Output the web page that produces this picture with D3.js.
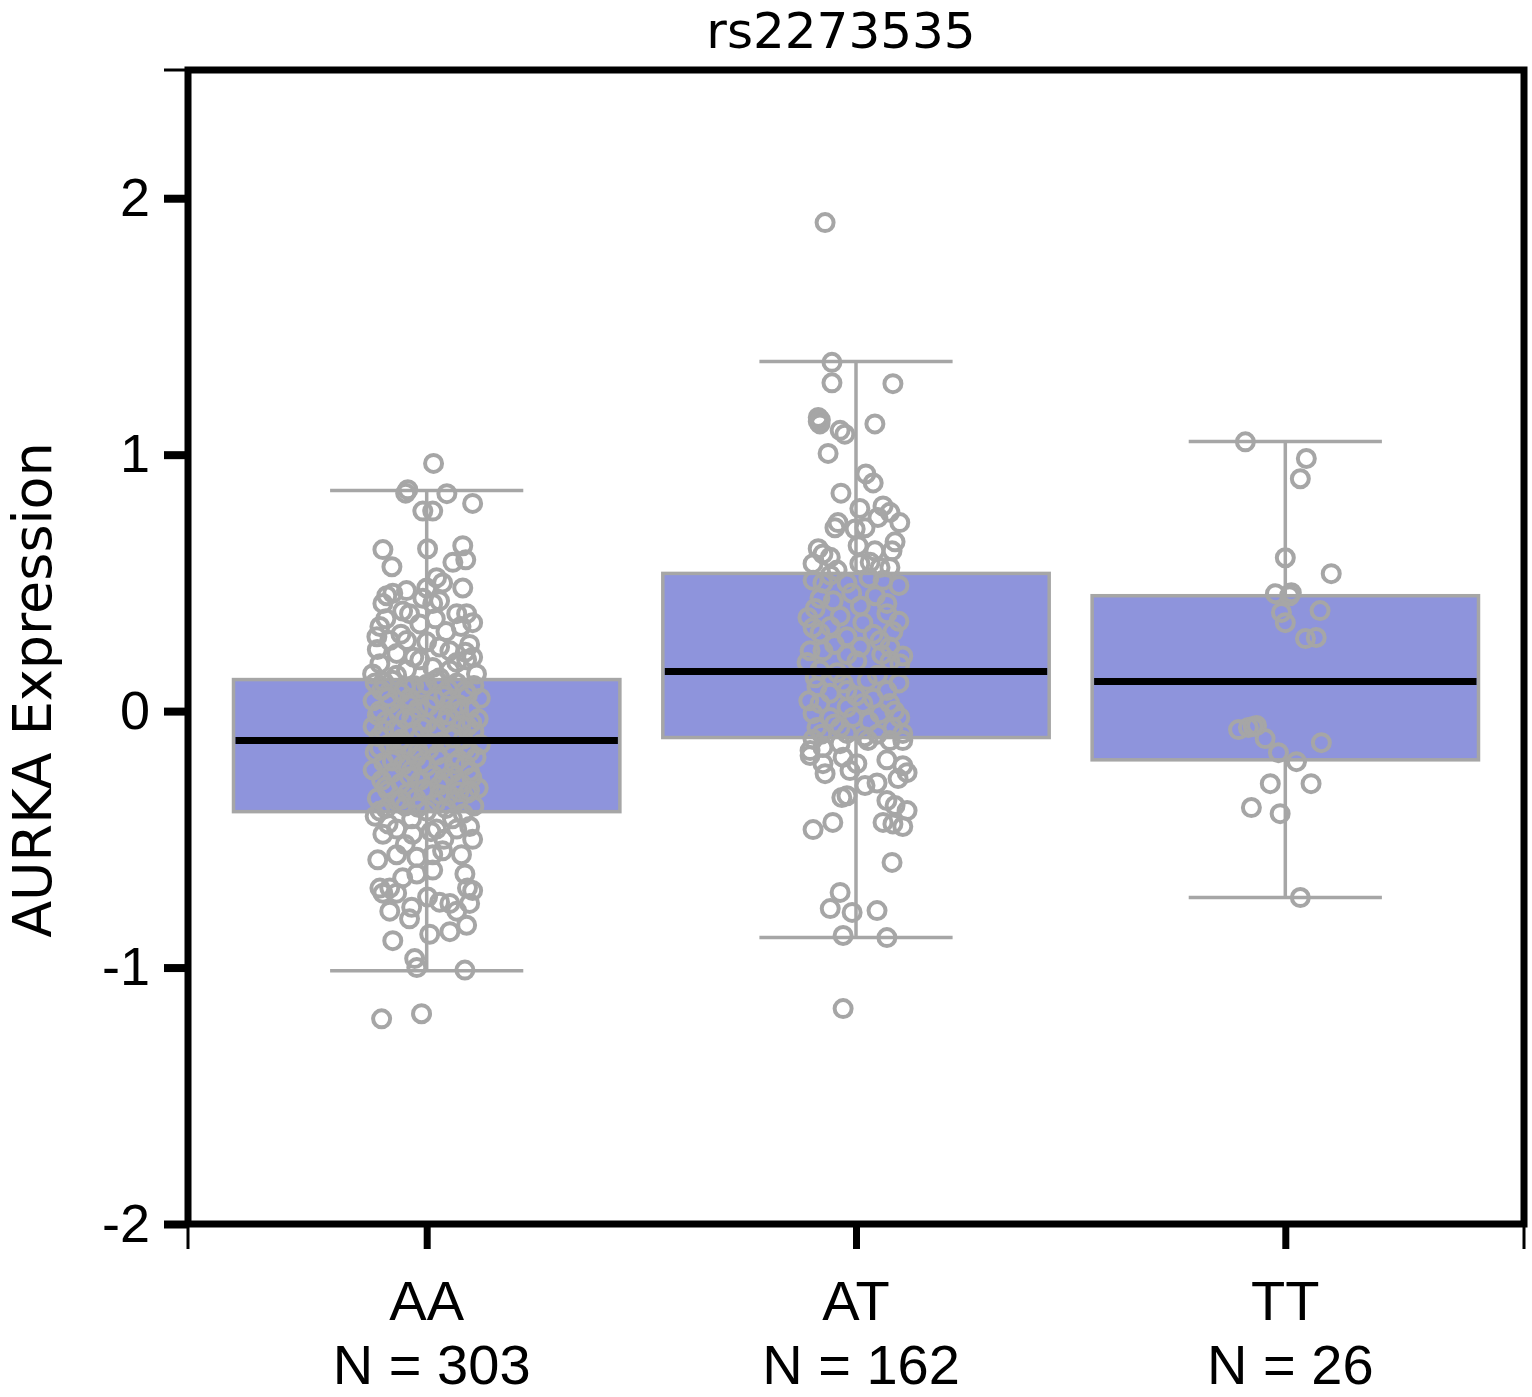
<!DOCTYPE html>
<html>
<head>
<meta charset="utf-8">
<script src="https://cdn.jsdelivr.net/npm/d3@7"></script>
<style>
  body { margin: 0; background: #fff; }
</style>
</head>
<body>
<script>
// genotype groups
const genotypes = ['AA', 'AT', 'TT'];
const groupSizes = [303, 162, 26];

// box statistics
const q1 = [-0.392, -0.103, -0.19];
const medians = [-0.115, 0.154, 0.115];
const q3 = [0.123, 0.537, 0.45];
const whiskerLow = [-1.012, -0.883, -0.727];
const whiskerHigh = [0.86, 1.363, 1.051];

const yTicks = [-2, -1, 0, 1, 2];

// points: [jitter (category units), expression]
const pointsAA = [
  [0.016,0.966],[-0.044,0.863],[-0.049,0.85],[0.047,0.848],[0.107,0.81],[-0.009,0.78],[0.014,0.78],
  [-0.102,0.63],[0.002,0.633],[0.084,0.645],[-0.081,0.563],[0.061,0.58],[0.091,0.59],[0.023,0.52],
  [0.0,0.48],[0.037,0.5],[0.084,0.48],[-0.093,0.45],[-0.079,0.46],[-0.047,0.47],[-0.102,0.42],
  [-0.056,0.39],[-0.040,0.38],[-0.009,0.44],[0.014,0.42],[0.030,0.43],[0.070,0.38],[0.093,0.38],
  [0.107,0.345],[-0.016,0.34],[-0.109,0.33],[-0.116,0.29],[-0.086,0.275],[-0.047,0.275],[0.030,0.25],
  [0.054,0.235],[0.100,0.26],[0.107,0.21],[0.093,0.2],[-0.109,0.185],[-0.070,0.225],[-0.016,0.2],
  [0.014,0.17],[0.054,0.16],[0.116,0.145],[-0.126,0.145],[-0.047,0.16],
  [-0.115,0.24],[-0.060,0.30],[0.000,0.27],[0.045,0.31],[0.080,0.33],[-0.030,0.21],[0.070,0.19],
  [-0.095,0.36],[0.020,0.36],[-0.070,0.14],[0.030,0.13],[0.090,0.23],
  [-0.120,0.11],[-0.080,0.12],[-0.030,0.10],[0.020,0.12],[0.070,0.11],[0.110,0.10],
  [-0.105,0.08],[-0.060,0.07],[-0.010,0.09],[0.040,0.06],[0.090,0.08],[0.125,0.05],
  [-0.125,0.04],[-0.085,0.03],[-0.040,0.05],[0.005,0.02],[0.055,0.04],[0.100,0.01],
  [-0.110,0.00],[-0.065,-0.01],[-0.020,0.01],[0.030,-0.02],[0.075,0.00],[0.120,-0.03],
  [-0.095,-0.04],[-0.050,-0.03],[0.000,-0.05],[0.045,-0.04],[0.095,-0.06],[-0.125,-0.06],
  [-0.075,-0.07],[-0.030,-0.08],[0.020,-0.07],[0.065,-0.09],[0.110,-0.08],[-0.110,-0.10],
  [-0.060,-0.11],[-0.015,-0.10],[0.035,-0.12],[0.085,-0.11],[0.125,-0.13],[-0.090,-0.13],
  [-0.045,-0.14],[0.005,-0.15],[0.055,-0.14],[0.100,-0.16],[-0.120,-0.16],[-0.070,-0.17],
  [-0.025,-0.18],[0.025,-0.17],[0.075,-0.19],[0.115,-0.18],[-0.100,-0.20],[-0.055,-0.21],
  [-0.010,-0.20],[0.040,-0.22],[0.090,-0.21],[-0.125,-0.23],[-0.080,-0.24],[-0.035,-0.23],
  [0.015,-0.25],[0.060,-0.24],[0.105,-0.26],[-0.105,-0.27],[-0.060,-0.28],[-0.015,-0.27],
  [0.030,-0.29],[0.080,-0.28],[0.120,-0.30],[-0.090,-0.31],[-0.045,-0.32],[0.005,-0.31],
  [0.050,-0.33],[0.095,-0.32],[-0.115,-0.34],[-0.070,-0.35],[-0.025,-0.34],[0.020,-0.36],
  [0.070,-0.35],[0.110,-0.37],[-0.095,-0.38],[-0.050,-0.37],[0.000,-0.39],[0.045,-0.38],
  [0.085,-0.40],[-0.120,-0.41],[-0.035,-0.42],[0.060,-0.42],
  [-0.100,0.115],[-0.050,0.095],[0.000,0.105],[0.050,0.085],[0.095,0.065],[-0.090,0.055],
  [-0.040,0.025],[0.020,0.045],[0.075,0.025],[-0.115,-0.015],[-0.035,-0.025],[0.050,-0.015],
  [0.105,-0.045],[-0.100,-0.075],[-0.010,-0.065],[0.080,-0.055],[-0.065,-0.125],[0.010,-0.125],
  [0.060,-0.105],[-0.110,-0.145],[-0.020,-0.155],[0.090,-0.145],[-0.080,-0.195],[0.000,-0.215],
  [0.065,-0.205],[-0.040,-0.255],[0.040,-0.265],[0.100,-0.235],[-0.095,-0.295],[-0.005,-0.305],
  [0.075,-0.315],[-0.060,-0.345],[0.030,-0.325],[-0.020,-0.375],
  [-0.090,-0.44],[0.010,-0.47],[0.070,-0.46],[-0.050,-0.52],[0.040,-0.50],
  [-0.109,-0.39],[0.100,-0.31],[-0.102,-0.48],[-0.070,-0.46],[-0.033,-0.48],[0.023,-0.46],
  [0.100,-0.45],[0.107,-0.5],[-0.114,-0.58],[-0.070,-0.56],[-0.023,-0.57],[0.014,-0.56],
  [0.037,-0.545],[0.081,-0.56],[-0.056,-0.65],[-0.023,-0.635],[0.014,-0.62],[0.089,-0.635],
  [-0.109,-0.69],[-0.086,-0.69],[-0.102,-0.71],[-0.070,-0.71],[0.095,-0.69],[0.107,-0.70],
  [0.002,-0.725],[0.030,-0.745],[0.054,-0.75],[0.070,-0.78],[0.100,-0.75],[-0.086,-0.78],
  [-0.035,-0.765],[-0.040,-0.81],[0.007,-0.87],[0.054,-0.86],[0.093,-0.835],[-0.079,-0.895],
  [-0.028,-0.965],[-0.023,-1.0],[0.089,-1.01],[-0.105,-1.2],[-0.012,-1.18]
];

const pointsAT = [
  [-0.072,1.905],[-0.056,1.36],[-0.056,1.28],[0.086,1.277],[-0.088,1.145],[-0.084,1.12],
  [-0.088,1.13],[-0.083,1.135],[-0.037,1.095],[-0.026,1.08],[0.044,1.12],[-0.065,1.005],
  [0.023,0.925],[0.040,0.89],[-0.035,0.85],[0.009,0.79],[0.063,0.80],[0.079,0.775],
  [0.102,0.735],[-0.042,0.735],[-0.049,0.715],[-0.002,0.71],[0.021,0.715],[0.051,0.755],
  [0.005,0.645],[0.044,0.625],[0.091,0.66],[0.084,0.625],[-0.088,0.633],[-0.077,0.613],
  [-0.100,0.575],[-0.060,0.6],[0.009,0.575],[0.033,0.58],[0.079,0.56],[0.056,0.56],[-0.044,0.55],
  [-0.100,0.51],[-0.077,0.50],[-0.021,0.50],[0.063,0.51],[-0.084,0.44],[-0.053,0.43],
  [0.072,0.42],[0.072,0.38],[-0.112,0.365],[-0.037,0.37],[0.016,0.345],[-0.100,0.325],
  [-0.084,0.305],[0.086,0.31],[-0.021,0.29],[0.056,0.275],[0.079,0.25],[-0.107,0.235],
  [-0.077,0.235],[-0.021,0.22],[0.109,0.215],[-0.114,0.19],[0.002,0.195],[0.079,0.195],
  [0.102,0.185],[-0.084,0.16],[-0.044,0.15],[0.026,0.12],[-0.091,0.095],[-0.060,0.07],
  [-0.021,0.08],[0.072,0.08],[-0.084,0.03],[-0.021,0.015],[0.016,0.03],[0.079,0.03],
  [-0.100,-0.01],[-0.060,-0.025],[-0.007,-0.025],[0.056,-0.01],[0.102,-0.025],[-0.091,-0.064],
  [-0.037,-0.064],[0.086,-0.064],[-0.021,-0.087],[0.109,-0.087],
  [-0.060,0.53],[0.030,0.52],[0.100,0.49],[-0.010,0.46],[0.045,0.45],[-0.095,0.40],
  [0.010,0.41],[0.100,0.35],[-0.060,0.33],[0.040,0.30],[-0.050,0.26],[0.010,0.25],
  [0.060,0.22],[-0.095,0.13],[0.050,0.14],[0.100,0.11],[-0.030,0.11],[0.000,0.06],
  [0.040,0.05],[-0.110,0.04],[0.090,0.00],[-0.050,-0.05],[0.030,-0.04],[-0.080,-0.09],
  [0.050,-0.09],[-0.100,-0.11],[0.020,-0.10],
  [-0.107,-0.154],[-0.077,-0.142],[-0.037,-0.127],[0.028,-0.115],[0.079,-0.115],[0.109,-0.115],
  [-0.107,-0.173],[-0.030,-0.18],[0.072,-0.19],[-0.077,-0.205],[0.002,-0.205],[0.109,-0.213],
  [-0.072,-0.244],[-0.014,-0.232],[0.119,-0.24],[0.098,-0.263],[0.021,-0.29],[0.049,-0.28],
  [-0.033,-0.337],[-0.021,-0.33],[0.072,-0.349],[0.091,-0.368],[0.119,-0.388],[0.063,-0.434],
  [0.086,-0.44],[0.109,-0.45],[-0.054,-0.434],[-0.100,-0.462],[0.084,-0.59],[-0.037,-0.707],
  [-0.060,-0.77],[-0.009,-0.785],[0.049,-0.778],[-0.030,-0.875],[0.072,-0.883],[-0.030,-1.16]
];

const pointsTT = [
  [-0.093,1.05],[0.049,0.985],[0.035,0.906],[0.0,0.598],[0.107,0.536],[-0.023,0.458],
  [0.014,0.462],[-0.009,0.385],[0.081,0.392],[0.0,0.345],[0.047,0.283],[0.072,0.287],
  [-0.109,-0.072],[-0.086,-0.064],[-0.067,-0.056],[-0.047,-0.107],[-0.016,-0.162],[0.084,-0.123],
  [0.026,-0.197],[-0.035,-0.283],[0.060,-0.283],[-0.079,-0.376],[-0.012,-0.40],[0.035,-0.727],
  [-0.075,-0.06],[0.010,0.45]
];

const pointGroups = [pointsAA, pointsAT, pointsTT];

const width = 1532, height = 1397;
const plot = { left: 188, right: 1524, top: 70, bottom: 1224 };
const boxColor = '#8e94dc';
const gray = '#a6a6a6';
const boxWidth = 0.9, capWidth = 0.45;

const svg = d3.select('body')
  .append('svg')
  .attr('width', width)
  .attr('height', height);

const x = d3.scaleLinear()
  .domain([0.444, 3.556])
  .range([plot.left, plot.right]);

const y = d3.scaleLinear()
  .domain([-2, 2.5])
  .range([plot.bottom, plot.top]);

const stats = genotypes.map((g, i) => ({
  name: g, pos: i + 1, n: groupSizes[i],
  q1: q1[i], med: medians[i], q3: q3[i], lo: whiskerLow[i], hi: whiskerHigh[i]
}));

const groups = svg.append('g')
  .selectAll('g')
  .data(stats)
  .enter()
  .append('g');

// whisker stem
groups.append('line')
  .attr('x1', d => x(d.pos))
  .attr('x2', d => x(d.pos))
  .attr('y1', d => y(d.lo))
  .attr('y2', d => y(d.hi))
  .attr('stroke', gray)
  .attr('stroke-width', 3.5);

// caps
['lo', 'hi'].forEach(k => {
  groups.append('line')
    .attr('x1', d => x(d.pos - capWidth / 2))
    .attr('x2', d => x(d.pos + capWidth / 2))
    .attr('y1', d => y(d[k]))
    .attr('y2', d => y(d[k]))
    .attr('stroke', gray)
    .attr('stroke-width', 3.5);
});

// boxes
groups.append('rect')
  .attr('x', d => x(d.pos - boxWidth / 2))
  .attr('width', d => x(d.pos + boxWidth / 2) - x(d.pos - boxWidth / 2))
  .attr('y', d => y(d.q3))
  .attr('height', d => y(d.q1) - y(d.q3))
  .attr('fill', boxColor)
  .attr('stroke', gray)
  .attr('stroke-width', 3.5);

// points
groups.each(function (d, i) {
  d3.select(this).selectAll('circle')
    .data(pointGroups[i])
    .enter()
    .append('circle')
    .attr('cx', p => x(d.pos + p[0]))
    .attr('cy', p => y(p[1]))
    .attr('r', 8.5)
    .attr('fill', 'none')
    .attr('stroke', gray)
    .attr('stroke-width', 4);
});

// medians
groups.append('line')
  .attr('x1', d => x(d.pos - boxWidth / 2) + 2)
  .attr('x2', d => x(d.pos + boxWidth / 2) - 2)
  .attr('y1', d => y(d.med))
  .attr('y2', d => y(d.med))
  .attr('stroke', '#000')
  .attr('stroke-width', 7);

// frame
svg.append('rect')
  .attr('x', plot.left)
  .attr('y', plot.top)
  .attr('width', plot.right - plot.left)
  .attr('height', plot.bottom - plot.top)
  .attr('fill', 'none')
  .attr('stroke', '#000')
  .attr('stroke-width', 7);

// y axis
const yAxis = svg.append('g')
  .attr('transform', `translate(${plot.left}, 0)`)
  .call(d3.axisLeft(y).tickValues(yTicks).tickSize(24).tickPadding(14).tickFormat(d => String(d)));
yAxis.select('.domain').remove();
yAxis.selectAll('.tick line').attr('stroke-width', 8);
yAxis.selectAll('.tick text')
  .attr('font-family', '"Liberation Sans", Arial, sans-serif')
  .attr('font-size', 54)
  .attr('fill', '#000');

// thin end tick at top of y axis
yAxis.append('line')
  .attr('x1', -24).attr('x2', 0)
  .attr('y1', y(2.5)).attr('y2', y(2.5))
  .attr('stroke', '#000')
  .attr('stroke-width', 3);

// x axis
const xAxis = svg.append('g')
  .attr('transform', `translate(0, ${plot.bottom})`)
  .call(d3.axisBottom(x).tickValues([1, 2, 3]).tickSize(25).tickFormat(''));
xAxis.select('.domain').remove();
xAxis.selectAll('.tick line').attr('stroke-width', 7);

x.domain().forEach(v => {
  xAxis.append('line')
    .attr('x1', x(v)).attr('x2', x(v))
    .attr('y1', 0).attr('y2', 25)
    .attr('stroke', '#000')
    .attr('stroke-width', 3);
});

const labels = svg.append('g')
  .attr('font-family', '"Liberation Sans", Arial, sans-serif')
  .attr('font-size', 56)
  .attr('text-anchor', 'middle')
  .attr('fill', '#000');

labels.selectAll('.cat')
  .data(stats)
  .enter()
  .append('text')
  .attr('x', d => x(d.pos))
  .attr('y', 1320)
  .text(d => d.name);

labels.selectAll('.n')
  .data(stats)
  .enter()
  .append('text')
  .attr('x', d => x(d.pos) + 5)
  .attr('y', 1384)
  .text(d => `N = ${d.n}`);

// title
svg.append('text')
  .attr('x', 841)
  .attr('y', 48)
  .attr('text-anchor', 'middle')
  .attr('font-family', '"DejaVu Sans", sans-serif')
  .attr('font-size', 50)
  .text('rs2273535');

// y label
svg.append('text')
  .attr('transform', 'translate(51, 690) rotate(-90)')
  .attr('text-anchor', 'middle')
  .attr('font-family', '"DejaVu Sans", sans-serif')
  .attr('font-size', 54)
  .text('AURKA Expression');
</script>
</body>
</html>
